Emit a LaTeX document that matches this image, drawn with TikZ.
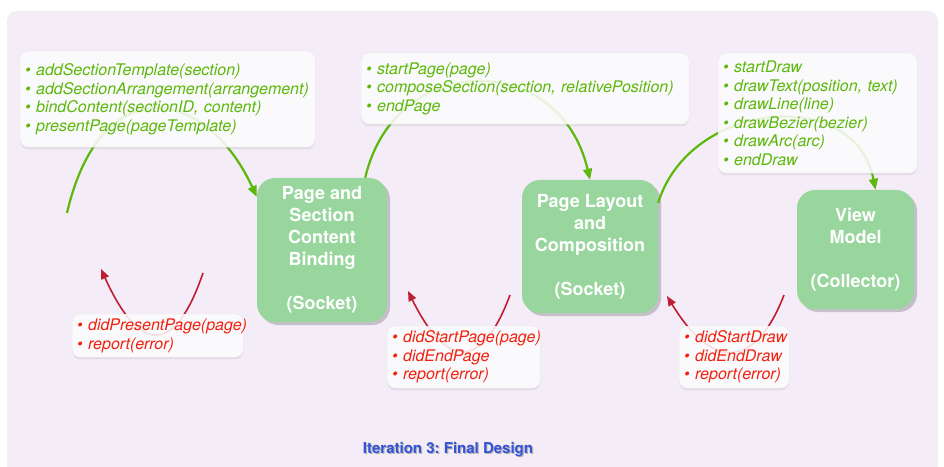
\documentclass[tikz,border=0pt]{standalone}
\usepackage{fontspec}
\setmainfont{TeX Gyre Heros}
\usetikzlibrary{arrows.meta,shadows}
\frenchspacing

\definecolor{bgviolet}{RGB}{244,236,247}
\definecolor{socketgreen}{RGB}{152,214,158}
\definecolor{callgreen}{RGB}{92,184,10}
\definecolor{backred}{RGB}{242,32,14}
\definecolor{arrowred}{RGB}{190,30,50}
\definecolor{titleblue}{RGB}{52,82,214}

% one message per line, never broken
\newcommand{\msg}[1]{\mbox{\textbullet\ #1}}
\newcommand{\shadowed}[1]{\makebox[0pt][l]{\hspace{1.2pt}\raisebox{-1.2pt}{\color{black!30}#1}}#1}

\tikzset{
	socket/.style = {rectangle, rounded corners=18pt, fill=socketgreen, text=white, align=center,
		font=\bfseries\fontsize{18}{22}\selectfont,
		drop shadow={shadow xshift=3pt, shadow yshift=-3pt, opacity=0.4}},
	calls/.style = {rectangle, rounded corners=8pt, anchor=north west, fill=white, fill opacity=0.85,
		text opacity=1, draw=black!8, inner xsep=5pt, inner ysep=0pt, align=left,
		font=\itshape\fontsize{16}{18.5}\selectfont,
		drop shadow={shadow xshift=0pt, shadow yshift=-2pt, opacity=0.15}},
	forward/.style = {calls, text=callgreen},
	backward/.style = {calls, text=backred},
	fwdarc/.style = {draw=callgreen, line width=2.2pt, -{Triangle[length=11pt,width=9pt]}},
	backarc/.style = {draw=arrowred, line width=1.6pt, -{Triangle[length=10pt,width=8pt]}},
	caption/.style = {text=titleblue, font=\bfseries\fontsize{15}{18}\selectfont}
}

\begin{document}
\begin{tikzpicture}[x=1pt, y=1pt]
\useasboundingbox (0,0) rectangle (944,466);
\fill[white] (0,0) rectangle (944,466);
\fill[bgviolet, rounded corners=10pt] (7,-10) rectangle (938,455);

% the three components
\node[socket, minimum width=130pt, minimum height=144pt] (bind) at (322,216)
	{Page and\\Section\\Content\\Binding\\~\\(Socket)};
\node[socket, minimum width=136pt, minimum height=133pt] (layout) at (590,219.5)
	{Page Layout\\and\\Composition\\~\\(Socket)};
\node[socket, minimum width=117pt, minimum height=119pt] (view) at (855.5,216.5)
	{View\\Model\\~\\(Collector)};

% free ends of the call paths
\coordinate (client) at (67,253);
\coordinate (bindret) at (203,193);
\coordinate (clientret) at (101,197);
\coordinate (layoutret) at (510,171);
\coordinate (bindback) at (408,175);
\coordinate (viewret) at (784,171);
\coordinate (layoutback) at (667,170);

% calls going right
\draw[fwdarc] (client) .. controls (100,396) and (205,381) .. ([yshift=-19pt]bind.north west);
\draw[fwdarc] ([xshift=-22pt]bind.north east) .. controls (395,416) and (560,416) .. (layout.north);
\draw[fwdarc] ([yshift=-23pt]layout.north east) .. controls (690,366) and (855,381) .. ([xshift=20pt]view.north);

% callbacks going left
\draw[backarc] (bindret) .. controls (175,111) and (140,111) .. (clientret);
\draw[backarc] (layoutret) .. controls (482,96) and (447,96) .. (bindback);
\draw[backarc] (viewret) .. controls (755,96) and (712,96) .. (layoutback);

% messages
\node[forward, text width=285pt, minimum height=96pt] (bindcalls) at (20,415)
	{\msg{addSectionTemplate(section)}\\\msg{addSectionArrangement(arrangement)}\\
	 \msg{bindContent(sectionID, content)}\\\msg{presentPage(pageTemplate)}};
\node[forward, text width=318pt, minimum height=71pt] (layoutcalls) at (361,413)
	{\msg{startPage(page)}\\\msg{composeSection(section, relativePosition)}\\\msg{endPage}};
\node[forward, text width=189pt, minimum height=120pt] (viewcalls) at (718,413)
	{\msg{startDraw}\\\msg{drawText(position, text)}\\\msg{drawLine(line)}\\
	 \msg{drawBezier(bezier)}\\\msg{drawArc(arc)}\\\msg{endDraw}};
\node[backward, text width=161pt, minimum height=43pt] (bindreplies) at (72,152)
	{\msg{didPresentPage(page)}\\\msg{report(error)}};
\node[backward, text width=143pt, minimum height=62pt] (layoutreplies) at (387,140)
	{\msg{didStartPage(page)}\\\msg{didEndPage}\\\msg{report(error)}};
\node[backward, text width=100pt, minimum height=62pt] (viewreplies) at (679,140)
	{\msg{didStartDraw}\\\msg{didEndDraw}\\\msg{report(error)}};

\node[caption] (title) at (448,16) {\shadowed{Iteration 3: Final Design}};
\end{tikzpicture}
\end{document}
